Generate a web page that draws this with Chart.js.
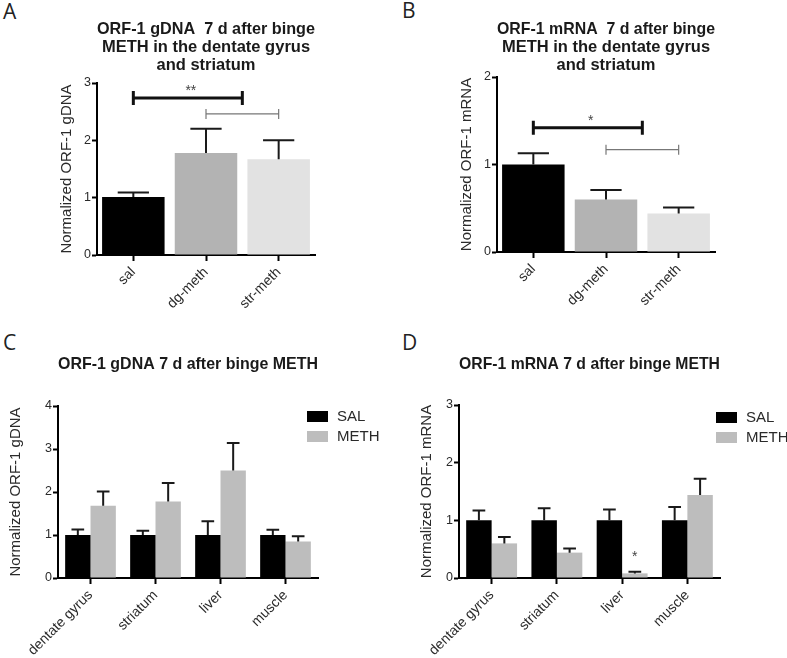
<!DOCTYPE html>
<html>
<head>
<meta charset="utf-8">
<title>ORF-1 after binge METH</title>
<script src="https://cdn.jsdelivr.net/npm/chart.js@4/dist/chart.umd.min.js"></script>
<style>
  body { margin: 0; background: #fff; }
  #figure { position: relative; width: 787px; height: 658px; }
  .panel { position: absolute; }
  .letter {
    position: absolute;
    font-family: "Open Sans", "DejaVu Sans", sans-serif;
    font-size: 21px;
    line-height: 21px;
    color: #222;
  }
</style>
</head>
<body>
<div id="figure">
  <div class="letter" style="left:3px;top:1px">A</div>
  <div class="letter" style="left:402px;top:0px">B</div>
  <div class="letter" style="left:3px;top:332px">C</div>
  <div class="letter" style="left:402px;top:332px">D</div>

  <div class="panel" style="left:0;top:0"><canvas id="chart-a" width="393" height="329"></canvas></div>
  <div class="panel" style="left:393px;top:0"><canvas id="chart-b" width="394" height="329"></canvas></div>
  <div class="panel" style="left:0;top:329px"><canvas id="chart-c" width="393" height="329"></canvas></div>
  <div class="panel" style="left:393px;top:329px"><canvas id="chart-d" width="394" height="329"></canvas></div>
</div>

<script>
/* ---------- data ---------- */

const treatmentGroups = ["sal", "dg-meth", "str-meth"];

const gdnaMeans = [1.01, 1.78, 1.67];
const gdnaSem = [0.08, 0.42, 0.33];
const gdnaTicks = [0, 1, 2, 3];

const mrnaMeans = [1.0, 0.6, 0.44];
const mrnaSem = [0.13, 0.11, 0.07];
const mrnaTicks = [0, 1, 2];

const tissues = ["dentate gyrus", "striatum", "liver", "muscle"];

const tissueGdnaSal = [1.0, 1.0, 1.0, 1.0];
const tissueGdnaSalSem = [0.13, 0.1, 0.32, 0.12];
const tissueGdnaMeth = [1.68, 1.78, 2.5, 0.85];
const tissueGdnaMethSem = [0.33, 0.43, 0.64, 0.12];
const tissueGdnaTicks = [0, 1, 2, 3, 4];

const tissueMrnaSal = [1.0, 1.0, 1.0, 1.0];
const tissueMrnaSalSem = [0.17, 0.21, 0.19, 0.23];
const tissueMrnaMeth = [0.6, 0.44, 0.08, 1.44];
const tissueMrnaMethSem = [0.11, 0.07, 0.03, 0.28];
const tissueMrnaTicks = [0, 1, 2, 3];

// significance brackets: from / to are category positions, value is the y level
const gdnaBrackets = [
    { from: 0, to: 1.5, value: 2.74, label: "**", strong: true },
    { from: 1, to: 2, value: 2.46, label: "", strong: false }
];
const mrnaBrackets = [
    { from: 0, to: 1.5, value: 1.42, label: "*", strong: true },
    { from: 1, to: 2, value: 1.17, label: "", strong: false }
];
const liverStars = [
    { dataset: 1, index: 2, value: 0.3, label: "*" }
];

/* ---------- look ---------- */

const FONT = '"Liberation Sans", Arial, sans-serif';
const TEXT = "#2a2a2a";

Chart.defaults.font.family = FONT;
Chart.defaults.color = TEXT;
Chart.defaults.animation = false;

/* ---------- plugins ---------- */

const errorBars = {
    id: "errorBars",
    afterDatasetsDraw(chart) {
        const ctx = chart.ctx;
        const yScale = chart.scales.y;
        chart.data.datasets.forEach((ds, i) => {
            const meta = chart.getDatasetMeta(i);
            meta.data.forEach((bar, j) => {
                const base = yScale.getPixelForValue(ds.data[j]);
                const top = yScale.getPixelForValue(ds.data[j] + ds.sem[j]);
                const half = bar.width / 4;
                ctx.save();
                ctx.strokeStyle = "#1a1a1a";
                ctx.lineWidth = 2;
                ctx.beginPath();
                ctx.moveTo(bar.x, base);
                ctx.lineTo(bar.x, top);
                ctx.moveTo(bar.x - half, top);
                ctx.lineTo(bar.x + half, top);
                ctx.stroke();
                ctx.restore();
            });
        });
    }
};

const sigMarks = {
    id: "sigMarks",
    afterDatasetsDraw(chart, args, opts) {
        const ctx = chart.ctx;
        const xScale = chart.scales.x;
        const yScale = chart.scales.y;
        ctx.save();
        (opts.brackets || []).forEach((b) => {
            const x1 = xScale.getPixelForValue(b.from);
            const x2 = xScale.getPixelForValue(b.to);
            const y = yScale.getPixelForValue(b.value);
            ctx.strokeStyle = b.strong ? "#111" : "#777";
            ctx.lineWidth = b.strong ? 3 : 1.2;
            const h = b.strong ? 7 : 5;
            ctx.beginPath();
            ctx.moveTo(x1, y);
            ctx.lineTo(x2, y);
            ctx.moveTo(x1, y - h);
            ctx.lineTo(x1, y + h);
            ctx.moveTo(x2, y - h);
            ctx.lineTo(x2, y + h);
            ctx.stroke();
            if (b.label) {
                ctx.fillStyle = "#444";
                ctx.font = "14px " + FONT;
                ctx.textAlign = "center";
                ctx.textBaseline = "alphabetic";
                ctx.fillText(b.label, (x1 + x2) / 2 + 3, y - 3);
            }
        });
        (opts.stars || []).forEach((s) => {
            const bar = chart.getDatasetMeta(s.dataset).data[s.index];
            ctx.fillStyle = "#444";
            ctx.font = "14px " + FONT;
            ctx.textAlign = "center";
            ctx.textBaseline = "alphabetic";
            ctx.fillText(s.label, bar.x, yScale.getPixelForValue(s.value));
        });
        ctx.restore();
    }
};

const boxLegend = {
    id: "boxLegend",
    afterDraw(chart, args, opts) {
        if (!opts.display) {
            return;
        }
        const ctx = chart.ctx;
        ctx.save();
        chart.data.datasets.forEach((ds, i) => {
            const y = opts.y + i * 20;
            ctx.fillStyle = ds.backgroundColor;
            ctx.fillRect(opts.x, y, 21, 11);
            ctx.fillStyle = TEXT;
            ctx.font = "15px " + FONT;
            ctx.textAlign = "left";
            ctx.textBaseline = "middle";
            ctx.fillText(ds.label, opts.x + 30, y + 6);
        });
        ctx.restore();
    }
};

/* ---------- chart builder ---------- */

function makeChart(id, setup) {
    const ticks = setup.ticks;
    return new Chart(document.getElementById(id), {
        type: "bar",
        data: {
            labels: setup.labels,
            datasets: setup.datasets
        },
        plugins: [errorBars, sigMarks, boxLegend],
        options: {
            responsive: false,
            layout: { padding: setup.padding },
            datasets: {
                bar: {
                    categoryPercentage: setup.categoryPercentage,
                    barPercentage: setup.barPercentage
                }
            },
            plugins: {
                legend: { display: false },
                tooltip: { enabled: false },
                title: {
                    display: true,
                    text: setup.title,
                    fullSize: false,
                    color: "#1a1a1a",
                    font: { size: 16.5, weight: "bold", lineHeight: "18px" },
                    padding: { top: 0, bottom: setup.titleGap }
                },
                sigMarks: {
                    brackets: setup.brackets,
                    stars: setup.stars
                },
                boxLegend: setup.legend || { display: false }
            },
            scales: {
                x: {
                    grid: {
                        display: true,
                        offset: false,
                        drawOnChartArea: false,
                        drawTicks: true,
                        tickLength: 6,
                        tickColor: "#000",
                        tickWidth: 2
                    },
                    border: { display: true, color: "#000", width: 2 },
                    ticks: {
                        minRotation: 45,
                        maxRotation: 45,
                        color: TEXT,
                        font: { size: 14 }
                    },
                    afterFit(scale) {
                        scale.height = setup.xHeight;
                    }
                },
                y: {
                    min: ticks[0],
                    max: ticks[ticks.length - 1],
                    grid: {
                        display: true,
                        drawOnChartArea: false,
                        drawTicks: true,
                        tickLength: 5,
                        tickColor: "#000",
                        tickWidth: 2
                    },
                    border: { display: true, color: "#000", width: 2 },
                    ticks: {
                        stepSize: 1,
                        padding: 1,
                        color: TEXT,
                        font: { size: 12.5 }
                    },
                    title: {
                        display: true,
                        text: setup.yTitle,
                        color: TEXT,
                        font: { size: 15 },
                        padding: { top: 0, bottom: 0 }
                    },
                    afterFit(scale) {
                        scale.width = setup.yWidth;
                    }
                }
            }
        }
    });
}

/* ---------- panels ---------- */

makeChart("chart-a", {
    labels: treatmentGroups,
    datasets: [{
        data: gdnaMeans,
        sem: gdnaSem,
        backgroundColor: ["#000000", "#b3b3b3", "#e2e2e2"]
    }],
    ticks: gdnaTicks,
    title: ["ORF-1 gDNA  7 d after binge", "METH in the dentate gyrus", "and striatum"],
    yTitle: "Normalized ORF-1 gDNA",
    brackets: gdnaBrackets,
    categoryPercentage: 1,
    barPercentage: 0.86,
    padding: { top: 20, left: 58, right: 78, bottom: 0 },
    titleGap: 9,
    yWidth: 39,
    xHeight: 74
});

makeChart("chart-b", {
    labels: treatmentGroups,
    datasets: [{
        data: mrnaMeans,
        sem: mrnaSem,
        backgroundColor: ["#000000", "#b3b3b3", "#e2e2e2"]
    }],
    ticks: mrnaTicks,
    title: ["ORF-1 mRNA  7 d after binge", "METH in the dentate gyrus", "and striatum"],
    yTitle: "Normalized ORF-1 mRNA",
    brackets: mrnaBrackets,
    categoryPercentage: 1,
    barPercentage: 0.86,
    padding: { top: 20, left: 65, right: 72, bottom: 0 },
    titleGap: 3,
    yWidth: 39,
    xHeight: 77
});

makeChart("chart-c", {
    labels: tissues,
    datasets: [
        { label: "SAL", data: tissueGdnaSal, sem: tissueGdnaSalSem, backgroundColor: "#000000" },
        { label: "METH", data: tissueGdnaMeth, sem: tissueGdnaMethSem, backgroundColor: "#bdbdbd" }
    ],
    ticks: tissueGdnaTicks,
    title: "ORF-1 gDNA 7 d after binge METH",
    yTitle: "Normalized ORF-1 gDNA",
    categoryPercentage: 0.78,
    barPercentage: 1,
    legend: { display: true, x: 307, y: 82 },
    padding: { top: 26, left: 7, right: 75, bottom: 0 },
    titleGap: 33,
    yWidth: 51,
    xHeight: 80
});

makeChart("chart-d", {
    labels: tissues,
    datasets: [
        { label: "SAL", data: tissueMrnaSal, sem: tissueMrnaSalSem, backgroundColor: "#000000" },
        { label: "METH", data: tissueMrnaMeth, sem: tissueMrnaMethSem, backgroundColor: "#bdbdbd" }
    ],
    ticks: tissueMrnaTicks,
    title: "ORF-1 mRNA 7 d after binge METH",
    yTitle: "Normalized ORF-1 mRNA",
    stars: liverStars,
    categoryPercentage: 0.78,
    barPercentage: 1,
    legend: { display: true, x: 323, y: 83 },
    padding: { top: 26, left: 25, right: 67, bottom: 0 },
    titleGap: 32,
    yWidth: 41,
    xHeight: 80
});
</script>
</body>
</html>
